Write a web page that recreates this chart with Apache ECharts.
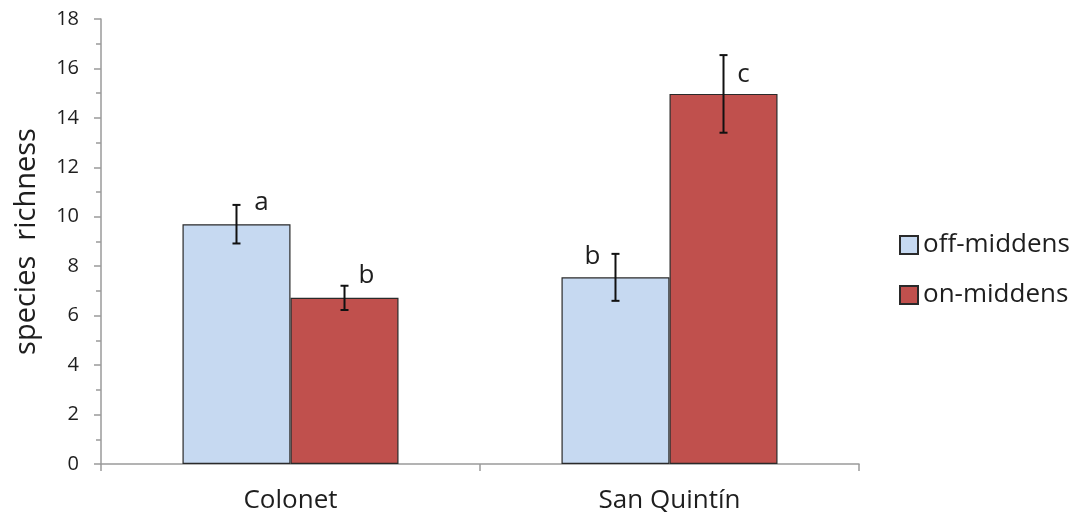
<!DOCTYPE html>
<html>
<head>
<meta charset="utf-8">
<script src="https://cdn.jsdelivr.net/npm/echarts@6/dist/echarts.min.js"></script>
<style>
  html, body { margin: 0; padding: 0; background: #fff; }
  #chart { width: 1078px; height: 522px; }
</style>
</head>
<body>
<div id="chart"></div>
<script>
// Mean species richness per site, with standard errors and significance letters
const categories = ['Colonet', 'San Quintín'];
const offMiddens = [9.7, 7.55];
const onMiddens = [6.72, 14.97];
const offErr = [0.78, 0.95];
const onErr = [0.49, 1.57];
const offLetters = ['a', 'b'];
const onLetters = ['b', 'c'];
const yTicks = [0, 2, 4, 6, 8, 10, 12, 14, 16, 18];

// Label placement relative to the top of each error bar (pixels)
const offLetterShift = [[25, -2], [-23, 3]];
const onLetterShift = [[22, -10], [20, 19]];

const CAT_GAP = 0.43;
const FONT = '"Open Sans", "Liberation Sans", sans-serif';
const TEXT = '#1e1e1e';

function errorRenderer(side, letters, shifts) {
  return function (params, api) {
    const i = api.value(0);
    const v = api.value(1);
    const e = api.value(2);
    const bandW = api.size([1, 0])[0];
    const barW = bandW * (1 - CAT_GAP) / 2;
    const cx = api.coord([i, 0])[0] + side * barW / 2;
    const yTop = api.coord([i, v + e])[1];
    const yBot = api.coord([i, v - e])[1];
    const cap = 4;
    const st = { stroke: '#111', lineWidth: 2 };
    const sh = shifts[params.dataIndex];
    return {
      type: 'group',
      children: [
        { type: 'line', shape: { x1: cx, y1: yTop, x2: cx, y2: yBot }, style: st },
        { type: 'line', shape: { x1: cx - cap, y1: yTop, x2: cx + cap, y2: yTop }, style: st },
        { type: 'line', shape: { x1: cx - cap, y1: yBot, x2: cx + cap, y2: yBot }, style: st },
        {
          type: 'text',
          style: {
            text: letters[params.dataIndex],
            x: cx + sh[0], y: yTop + sh[1],
            fill: TEXT, font: '26px ' + FONT,
            align: 'center', verticalAlign: 'middle'
          }
        }
      ]
    };
  };
}

const chart = echarts.init(document.getElementById('chart'), null, { renderer: 'canvas' });

chart.setOption({
  animation: false,
  backgroundColor: '#fff',
  textStyle: { fontFamily: FONT },
  grid: { left: 101, right: 219, top: 19, bottom: 58, containLabel: false },
  legend: {
    orient: 'vertical',
    left: 894,
    top: 225,
    icon: 'rect',
    itemWidth: 18,
    itemHeight: 18,
    itemGap: 20,
    itemTextGap: 5,
    data: ['off-middens', 'on-middens'],
    textStyle: { fontSize: 26, lineHeight: 30, color: TEXT, fontFamily: FONT }
  },
  xAxis: {
    type: 'category',
    data: categories,
    axisLine: { lineStyle: { color: '#9a9a9a', width: 1.5 } },
    axisTick: { show: true, length: 7, lineStyle: { color: '#9a9a9a', width: 1.5 } },
    axisLabel: { fontSize: 26, color: TEXT, margin: 24, fontFamily: FONT }
  },
  yAxis: {
    type: 'value',
    min: yTicks[0],
    max: yTicks[yTicks.length - 1],
    interval: 2,
    name: 'species  richness',
    nameLocation: 'middle',
    nameGap: 60,
    nameTextStyle: { fontSize: 29, color: TEXT, fontFamily: FONT },
    axisLine: { show: true, lineStyle: { color: '#9a9a9a', width: 1.5 } },
    axisTick: { show: true, length: 7, lineStyle: { color: '#9a9a9a', width: 1.5 } },
    minorTick: { show: true, splitNumber: 2, length: 5, lineStyle: { color: '#9a9a9a', width: 1.5 } },
    splitLine: { show: false },
    axisLabel: { fontSize: 20, color: TEXT, margin: 22, fontFamily: FONT }
  },
  series: [
    {
      name: 'off-middens',
      type: 'bar',
      data: offMiddens,
      barGap: '0%',
      barCategoryGap: (CAT_GAP * 100) + '%',
      itemStyle: { color: '#c6d9f1', borderColor: '#2a2a2a', borderWidth: 1.2 }
    },
    {
      name: 'on-middens',
      type: 'bar',
      data: onMiddens,
      barGap: '0%',
      barCategoryGap: (CAT_GAP * 100) + '%',
      itemStyle: { color: '#c0504d', borderColor: '#2a2a2a', borderWidth: 1.2 }
    },
    {
      name: 'off-err',
      type: 'custom',
      z: 5,
      encode: { x: 0, y: 1 },
      data: offMiddens.map((v, i) => [i, v, offErr[i]]),
      renderItem: errorRenderer(-1, offLetters, offLetterShift)
    },
    {
      name: 'on-err',
      type: 'custom',
      z: 5,
      encode: { x: 0, y: 1 },
      data: onMiddens.map((v, i) => [i, v, onErr[i]]),
      renderItem: errorRenderer(1, onLetters, onLetterShift)
    }
  ]
});
</script>
</body>
</html>
